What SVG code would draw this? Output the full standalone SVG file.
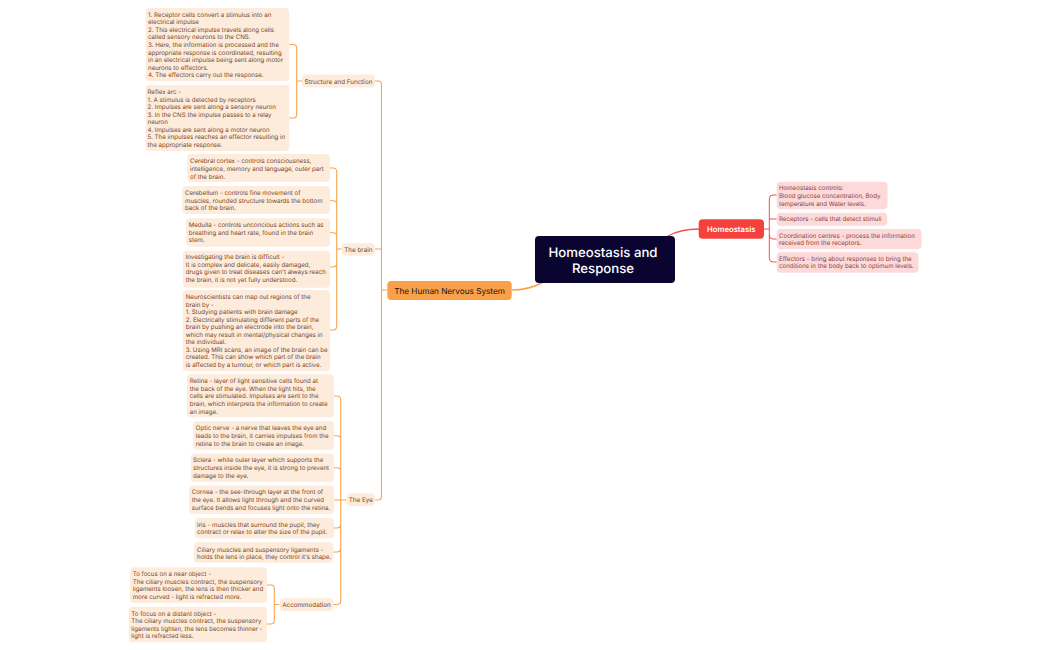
<svg xmlns="http://www.w3.org/2000/svg" width="1050" height="650" viewBox="0 0 1050 650">
<style>
text{font-family:"Inter","Noto Sans",sans-serif;font-size:6.15px;text-rendering:geometricPrecision}
rect.o,rect.r{rx:4px}
.o{fill:#fdebdc}.r{fill:#fed9d9}
.ot{fill:#75492a}.rt{fill:#853f3d}
.lo{fill:none;stroke:#f9a44e;stroke-width:1.1}
.lr{fill:none;stroke:#f5504c;stroke-width:1}
.m{text-anchor:middle}
.s{font-size:6.3px}
</style>
<rect width="1050" height="650" fill="#fff"/>
<g id="connectors">
<path class="lr" style="stroke-width:1.4" d="M668 236C677 231 686 229 699 229"/>
<path class="lo" style="stroke-width:1.4" d="M542 283C532 288 523 290 512 290"/>
<path class="lr" d="M764 229H769M776.7 195H773Q769.3 195 769.3 199V258Q769.3 262 773 262H776.7M769.3 219H776.7M769.3 235Q769.3 239 773 239H776.7"/>
<path class="lo" d="M387 290H381.5M375 81H378Q381.5 81 381.5 85V496Q381.5 500 378 500H375M375 249H378Q381.5 249 381.5 249"/>
<path class="lo" d="M302 81H296.7M289.3 44.5H293Q296.7 44.5 296.7 48V114.5Q296.7 118 293 118H289.3"/>
<path class="lo" d="M341.7 249H336.7M330 168H333Q336.7 168 336.7 172V326Q336.7 330 333 330H330M330 200.7H333Q336.7 200.7 336.7 204M330 232.7H333Q336.7 232.7 336.7 236M330 267H333Q336.7 267 336.7 263"/>
<path class="lo" d="M346.7 500H334M334 396H337Q340.7 396 340.7 400V601Q340.7 604.5 337 604.5H333.3M334 435.7H337Q340.7 435.7 340.7 439M334 467.7H337Q340.7 467.7 340.7 471M334 528H337Q340.7 528 340.7 524M333.3 552H337Q340.7 552 340.7 548"/>
<path class="lo" d="M279.7 604.5H274.3M267 585H271Q274.3 585 274.3 588.5V620.5Q274.3 624 271 624H267"/>
</g>
<g id="root"><rect x="535" y="236" width="140" height="47" rx="4" fill="#0a0530"/><text class="m" style="font-size:13.2px;font-weight:500" fill="#fff"><tspan x="603" y="256.5">Homeostasis and</tspan><tspan x="603" y="273">Response</tspan></text></g>
<g id="homeostasis"><rect x="698.7" y="219.3" width="65.3" height="19.4" rx="4" fill="#f5413c"/><text class="m" x="731.3" y="232" style="font-size:7.7px;font-weight:600" fill="#fff">Homeostasis</text></g>
<g id="nervous"><rect x="387.3" y="281" width="124.4" height="19" rx="4" fill="#f9a04b"/><text class="m" x="449.5" y="293.5" style="font-size:8.2px;font-weight:400" fill="#20140a">The Human Nervous System</text></g>
<g id="h1"><rect class="r" x="776.7" y="181.7" width="110.8" height="27.6"/><text class="rt"><tspan x="779" y="190">Homeostasis controls:</tspan><tspan x="779" y="198">Blood glucose concentration, Body</tspan><tspan x="779" y="205.5">temperature and Water levels.</tspan></text></g>
<g id="h2"><rect class="r" x="776.7" y="212.7" width="110.6" height="13"/><text class="rt" x="779" y="221.2">Receptors - cells that detect stimuli</text></g>
<g id="h3"><rect class="r" x="776.7" y="229" width="144.8" height="20"/><text class="rt"><tspan x="779" y="237.5">Coordination centres - process the information</tspan><tspan x="779" y="245">received from the receptors.</tspan></text></g>
<g id="h4"><rect class="r" x="776.7" y="252.3" width="141.8" height="20.4"/><text class="rt"><tspan x="779" y="261">Effectors - bring about responses to bring the</tspan><tspan x="779" y="268.3">conditions in the body back to optimum levels.</tspan></text></g>
<g id="sf"><rect class="o" x="302" y="74.5" width="73" height="13"/><text class="ot s m" x="338.5" y="83.6">Structure and Function</text></g>
<g id="sf1"><rect class="o" x="145.7" y="8" width="143.6" height="73"/><text class="ot"><tspan x="148" y="16.5">1. Receptor cells convert a stimulus into an</tspan><tspan x="148" y="24">electrical impulse</tspan><tspan x="148" y="31.5">2. This electrical impulse travels along cells</tspan><tspan x="148" y="39">called sensory neurons to the CNS.</tspan><tspan x="148" y="46.5">3. Here, the information is processed and the</tspan><tspan x="148" y="54.5">appropriate response is coordinated, resulting</tspan><tspan x="148" y="62">in an electrical impulse being sent along motor</tspan><tspan x="148" y="69.5">neurons to effectors.</tspan><tspan x="148" y="77">4. The effectors carry out the response.</tspan></text></g>
<g id="sf2"><rect class="o" x="145.7" y="85" width="143.6" height="66"/><text class="ot"><tspan x="147.5" y="94">Reflex arc -</tspan><tspan x="147.5" y="101.5">1. A stimulus is detected by receptors</tspan><tspan x="147.5" y="109">2. Impulses are sent along a sensory neuron</tspan><tspan x="147.5" y="116.5">3. In the CNS the impulse passes to a relay</tspan><tspan x="147.5" y="124">neuron</tspan><tspan x="147.5" y="131.5">4. Impulses are sent along a motor neuron</tspan><tspan x="147.5" y="139">5. The impulses reaches an effector resulting in</tspan><tspan x="147.5" y="147">the appropriate response.</tspan></text></g>
<g id="brain"><rect class="o" x="341.7" y="243.3" width="33.3" height="12.4"/><text class="ot s m" x="358.3" y="251.8">The brain</text></g>
<g id="b1"><rect class="o" x="187.3" y="154" width="142.7" height="28"/><text class="ot"><tspan x="190" y="163">Cerebral cortex - controls consciousness,</tspan><tspan x="190" y="171">intelligence, memory and language, outer part</tspan><tspan x="190" y="178.5">of the brain.</tspan></text></g>
<g id="b2"><rect class="o" x="182.3" y="186" width="147.7" height="28"/><text class="ot"><tspan x="185" y="195">Cerebellum - controls fine movement of</tspan><tspan x="185" y="203">muscles, rounded structure towards the bottom</tspan><tspan x="185" y="210.3">back of the brain.</tspan></text></g>
<g id="b3"><rect class="o" x="186" y="218.3" width="144" height="28.4"/><text class="ot"><tspan x="188.7" y="227.3">Medulla - controls unconcious actions such as</tspan><tspan x="188.7" y="235">breathing and heart rate, found in the brain</tspan><tspan x="188.7" y="242.3">stem.</tspan></text></g>
<g id="b4"><rect class="o" x="183" y="250.7" width="147" height="37"/><text class="ot"><tspan x="185.7" y="259.3">Investigating the brain is difficult -</tspan><tspan x="185.7" y="267">It is complex and delicate, easily damaged,</tspan><tspan x="185.7" y="274.3">drugs given to treat diseases can't always reach</tspan><tspan x="185.7" y="282.3">the brain, it is not yet fully understood.</tspan></text></g>
<g id="b5"><rect class="o" x="182.7" y="290" width="147.3" height="81"/><text class="ot"><tspan x="185.7" y="299.3">Neuroscientists can map out regions of the</tspan><tspan x="185.7" y="306.6">brain by -</tspan><tspan x="185.7" y="314.3">1. Studying patients with brain damage</tspan><tspan x="185.7" y="321.6">2. Electrically stimulating different parts of the</tspan><tspan x="185.7" y="329.3">brain by pushing an electrode into the brain,</tspan><tspan x="185.7" y="336.6">which may result in mental/physical changes in</tspan><tspan x="185.7" y="344.3">the individual.</tspan><tspan x="185.7" y="352">3. Using MRI scans, an image of the brain can be</tspan><tspan x="185.7" y="359.3">created. This can show which part of the brain</tspan><tspan x="185.7" y="367.3">is affected by a tumour, or which part is active.</tspan></text></g>
<g id="eye"><rect class="o" x="346.7" y="493.3" width="28.3" height="12.7"/><text class="ot s m" x="360.8" y="502">The Eye</text></g>
<g id="e1"><rect class="o" x="187" y="374.3" width="147" height="43"/><text class="ot"><tspan x="189.7" y="383">Retina - layer of light sensitive cells found at</tspan><tspan x="189.7" y="391">the back of the eye. When the light hits, the</tspan><tspan x="189.7" y="398.3">cells are stimulated. Impulses are sent to the</tspan><tspan x="189.7" y="406">brain, which interprets the information to create</tspan><tspan x="189.7" y="413.6">an image.</tspan></text></g>
<g id="e2"><rect class="o" x="193" y="421.3" width="141" height="28.4"/><text class="ot"><tspan x="195.7" y="430.3">Optic nerve - a nerve that leaves the eye and</tspan><tspan x="195.7" y="438">leads to the brain, it carries impulses from the</tspan><tspan x="195.7" y="445.6">retina to the brain to create an image.</tspan></text></g>
<g id="e3"><rect class="o" x="190.7" y="453.7" width="143.3" height="28"/><text class="ot"><tspan x="193" y="462.3">Sclera - white outer layer which supports the</tspan><tspan x="193" y="470">structures inside the eye, it is strong to prevent</tspan><tspan x="193" y="477.6">damage to the eye.</tspan></text></g>
<g id="e4"><rect class="o" x="189" y="485.7" width="145" height="28"/><text class="ot"><tspan x="191.7" y="494.3">Cornea - the see-through layer at the front of</tspan><tspan x="191.7" y="502">the eye. It allows light through and the curved</tspan><tspan x="191.7" y="510">surface bends and focuses light onto the retina.</tspan></text></g>
<g id="e5"><rect class="o" x="194.7" y="518" width="139.3" height="20.3"/><text class="ot"><tspan x="197" y="526.6">Iris - muscles that surround the pupil, they</tspan><tspan x="197" y="534.3">contract or relax to alter the size of the pupil.</tspan></text></g>
<g id="e6"><rect class="o" x="194" y="542.3" width="139.3" height="20.4"/><text class="ot"><tspan x="197" y="551.6">Ciliary muscles and suspensory ligaments -</tspan><tspan x="197" y="559">holds the lens in place, they control it's shape.</tspan></text></g>
<g id="acc"><rect class="o" x="279.7" y="598.3" width="53.6" height="12.7"/><text class="ot s m" x="306.5" y="606.8">Accommodation</text></g>
<g id="a1"><rect class="o" x="130" y="567.3" width="137" height="35.4"/><text class="ot"><tspan x="132.7" y="576">To focus on a near object -</tspan><tspan x="132.7" y="583.6">The ciliary muscles contract, the suspensory</tspan><tspan x="132.7" y="591.3">ligaments loosen, the lens is then thicker and</tspan><tspan x="132.7" y="598.6">more curved - light is refracted more.</tspan></text></g>
<g id="a2"><rect class="o" x="128.7" y="606.7" width="138.3" height="35.6"/><text class="ot"><tspan x="131.3" y="615.6">To focus on a distant object -</tspan><tspan x="131.3" y="623">The ciliary muscles contract, the suspensory</tspan><tspan x="131.3" y="631">ligaments tighten, the lens becomes thinner -</tspan><tspan x="131.3" y="638.3">light is refracted less.</tspan></text></g>
</svg>
